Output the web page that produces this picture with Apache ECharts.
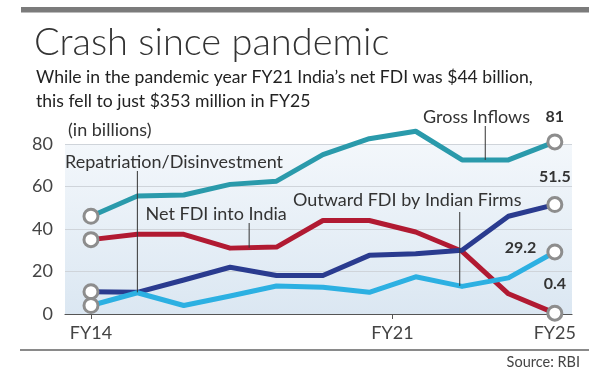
<!DOCTYPE html>
<html>
<head>
<meta charset="utf-8">
<script src="https://cdn.jsdelivr.net/npm/echarts@6/dist/echarts.min.js"></script>
<style>
html,body{margin:0;padding:0;background:#fff;}
#chart{width:597px;height:381px;}
</style>
</head>
<body>
<div id="chart"></div>
<script>
// ---- data (billions of US$) ----
const periods = ['FY14','FY15','FY16','FY17','FY18','FY19','FY20','FY21','FY22','FY23','FY25'];
const grossInflows  = [46, 55.5, 56, 61, 62.5, 75, 82.5, 86, 72.5, 72.5, 81];
const netFDI        = [35, 37.5, 37.5, 31, 31.5, 44, 44, 38.6, 29.5, 9.5, 0.4];
const repatriation  = [10.5, 10.2, 16, 22, 18.1, 18.1, 27.6, 28.4, 30, 46, 51.5];
const outwardFDI    = [4, 10, 4, 8.5, 13.2, 12.6, 10.2, 17.5, 13, 17, 29.2];
const tickLabels    = ['FY14', 'FY21', 'FY25'];
const tickPositions = [0, 6.5, 10];
const yTicks        = [0, 20, 40, 60, 80];

const seriesDefs = [
  {name:'Gross Inflows', values: grossInflows, color:'#2a9aab', lab:{position:'top', distance:9}},
  {name:'Net FDI into India', values: netFDI, color:'#b11a32', lab:{position:'top', distance:13}},
  {name:'Repatriation/Disinvestment', values: repatriation, color:'#2a3b8f', lab:{position:'top', distance:11}},
  {name:'Outward FDI by Indian Firms', values: outwardFDI, color:'#2cb0e2', lab:{position:'left', distance:10, offset:[0,-4]}}
];

const FONT = 'Lato, "Open Sans", sans-serif';
const chart = echarts.init(document.getElementById('chart'), null, {renderer:'canvas'});
const last = periods.length - 1;

const series = seriesDefs.map(d => ({
  name: d.name,
  type: 'line',
  clip: false,
  data: d.values.map((v, i) => [i, v]),
  symbol: (val, p) => (p.dataIndex === 0 || p.dataIndex === last) ? 'circle' : 'none',
  symbolSize: 14,
  showAllSymbol: true,
  lineStyle: {color: d.color, width: 5, join: 'round', cap: 'round'},
  itemStyle: {color: '#ffffff', borderColor: '#8d8d8d', borderWidth: 3},
  label: Object.assign({
    show: true,
    formatter: p => p.dataIndex === last ? String(p.value[1]) : '',
    fontFamily: FONT, fontSize: 16, fontWeight: 'bold', color: '#333'
  }, d.lab),
  emphasis: {disabled: true},
  z: 3,
  animation: false
}));

chart.setOption({
  animation: false,
  grid: {left: 65, right: 25, top: 144, bottom: 67, show: true, borderWidth: 0,
    backgroundColor: {type:'linear', x:0, y:0, x2:0, y2:1,
      colorStops:[{offset:0, color:'#f3f7fb'},{offset:1, color:'#dbe7f2'}]}},
  xAxis: {
    type: 'value', min: -0.56, max: 10.37,
    axisLine: {show: true, lineStyle: {color: '#555', width: 1.2}},
    axisTick: {show: true, customValues: tickPositions, length: 5, lineStyle: {color:'#555'}},
    axisLabel: {customValues: tickPositions, margin: 10, fontFamily: FONT, fontSize: 18, color: '#444',
      formatter: v => tickLabels[tickPositions.indexOf(v)] || ''},
    splitLine: {show: false}
  },
  yAxis: {
    type: 'value', min: yTicks[0], max: yTicks[yTicks.length-1], interval: 20,
    axisLine: {show: false}, axisTick: {show: false},
    axisLabel: {margin: 12, fontFamily: FONT, fontSize: 18, color: '#444'},
    splitLine: {show: true, lineStyle: {color: '#cfd4da', width: 1}}
  },
  series: series
});

// leader lines from labels to the lines, anchored through the axes
function px(x, y){ return chart.convertToPixel({gridIndex:0}, [x, y]); }
function valAt(arr, x){ const i = Math.floor(x), f = x - i; return i >= arr.length-1 ? arr[arr.length-1] : arr[i]*(1-f) + arr[i+1]*f; }

const annos = [
  {text:'Repatriation/Disinvestment', x:65, y:162, align:'left', lx:1, ly0:171, arr:repatriation},
  {text:'Net FDI into India', x:145.5, y:214, align:'left', lx:3.41, ly0:223, arr:netFDI},
  {text:'Outward FDI by Indian Firms', x:293, y:200, align:'left', lx:7.95, ly0:212, arr:outwardFDI},
  {text:'Gross Inflows', x:423, y:117, align:'left', lx:8.5, ly0:126, arr:grossInflows}
];

const g = [];
annos.forEach(a => {
  const p = px(a.lx, valAt(a.arr, a.lx));
  g.push({type:'line', z:10, shape:{x1:p[0], y1:a.ly0, x2:p[0], y2:p[1]}, style:{stroke:'#333', lineWidth:1}});
  g.push({type:'text', z:10, x:a.x, y:a.y, style:{text:a.text, font:'18px ' + FONT, fill:'#333', align:a.align, textAlign:a.align, verticalAlign:'middle', textVerticalAlign:'middle'}});
});
// header & footer
g.push({type:'rect', z:10, shape:{x:21, y:7, width:568, height:5.5}, style:{fill:'#7b7b7b'}});
g.push({type:'text', z:10, x:34, y:43, style:{text:'Crash since pandemic', font:'300 38px ' + FONT, fill:'#333', align:'left', textAlign:'left', verticalAlign:'middle', textVerticalAlign:'middle'}});
g.push({type:'text', z:10, x:36, y:77, style:{text:'While in the pandemic year FY21 India\u2019s net FDI was $44 billion,', font:'17.6px ' + FONT, fill:'#222', align:'left', textAlign:'left', verticalAlign:'middle', textVerticalAlign:'middle'}});
g.push({type:'text', z:10, x:36, y:101, style:{text:'this fell to just $353 million in FY25', font:'17.6px ' + FONT, fill:'#222', align:'left', textAlign:'left', verticalAlign:'middle', textVerticalAlign:'middle'}});
g.push({type:'text', z:10, x:68, y:130, style:{text:'(in billions)', font:'18px ' + FONT, fill:'#333', align:'left', textAlign:'left', verticalAlign:'middle', textVerticalAlign:'middle'}});
g.push({type:'rect', z:10, shape:{x:20, y:349, width:569, height:2}, style:{fill:'#8a8a8a'}});
g.push({type:'text', z:10, x:580, y:362, style:{text:'Source: RBI', font:'14.5px ' + FONT, fill:'#444', align:'right', textAlign:'right', verticalAlign:'middle', textVerticalAlign:'middle'}});

chart.setOption({graphic: g});
</script>
</body>
</html>
